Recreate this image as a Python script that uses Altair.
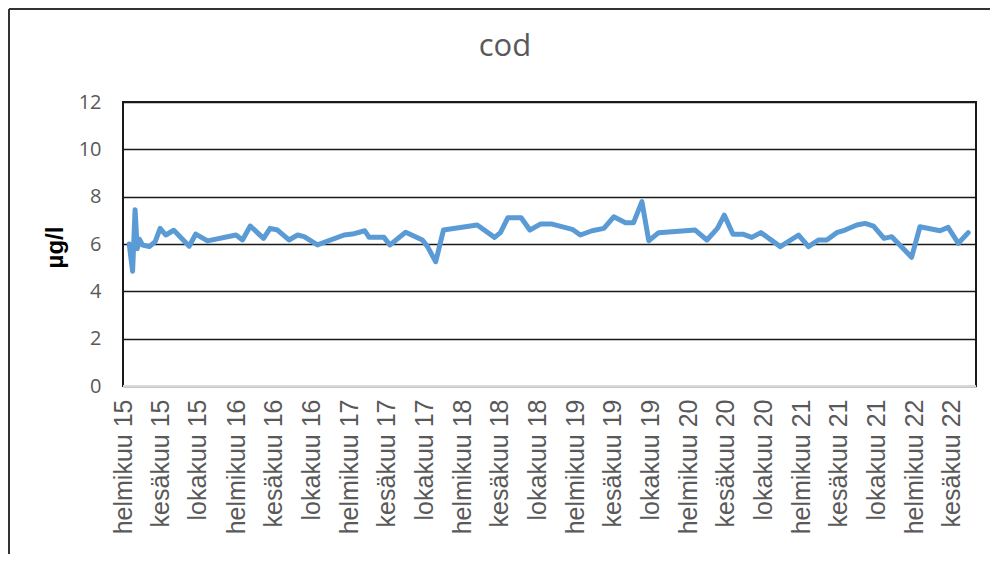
import altair as alt
import pandas as pd

dates = [
    "2015-02-21", "2015-03-04", "2015-03-12", "2015-03-19", "2015-03-26", "2015-04-05",
    "2015-04-27", "2015-05-16", "2015-06-01", "2015-06-19", "2015-07-15", "2015-09-03",
    "2015-09-24", "2015-11-01", "2016-02-01", "2016-02-22", "2016-03-18", "2016-04-30",
    "2016-05-21", "2016-06-14", "2016-07-21", "2016-08-18", "2016-09-08", "2016-10-21",
    "2017-01-15", "2017-02-11", "2017-03-23", "2017-04-06", "2017-05-24", "2017-06-12",
    "2017-08-02", "2017-09-25", "2017-10-11", "2017-11-07", "2017-12-02", "2018-03-21",
    "2018-05-16", "2018-06-04", "2018-06-28", "2018-08-10", "2018-09-07", "2018-10-11",
    "2018-11-18", "2019-01-22", "2019-02-17", "2019-03-27", "2019-05-04", "2019-06-05",
    "2019-07-13", "2019-08-08", "2019-09-04", "2019-09-26", "2019-10-28", "2020-02-23",
    "2020-04-01", "2020-05-05", "2020-05-27", "2020-06-24", "2020-07-28", "2020-08-24",
    "2020-09-22", "2020-11-24", "2021-01-22", "2021-02-23", "2021-03-27", "2021-04-23",
    "2021-05-25", "2021-06-21", "2021-07-29", "2021-08-25", "2021-09-21", "2021-10-25",
    "2021-11-19", "2022-01-22", "2022-02-18", "2022-04-24", "2022-05-20", "2022-06-22",
    "2022-07-24",
]
values = [
    6.0, 4.85, 7.45, 5.8, 6.2, 5.96,
    5.89, 6.1, 6.66, 6.38, 6.58, 5.91,
    6.42, 6.13, 6.38, 6.17, 6.76, 6.24,
    6.66, 6.59, 6.17, 6.38, 6.31, 5.96,
    6.38, 6.42, 6.56, 6.28, 6.28, 5.96,
    6.5, 6.17, 5.9, 5.25, 6.59, 6.8,
    6.28, 6.48, 7.11, 7.11, 6.59, 6.84,
    6.84, 6.62, 6.38, 6.56, 6.66, 7.15,
    6.9, 6.9, 7.79, 6.14, 6.48, 6.59,
    6.17, 6.66, 7.22, 6.41, 6.41, 6.28,
    6.48, 5.89, 6.38, 5.89, 6.17, 6.17,
    6.48, 6.59, 6.8, 6.87, 6.76, 6.24,
    6.31, 5.44, 6.73, 6.56, 6.7, 6.03,
    6.48,
]

month_names = ["tammikuu", "helmikuu", "maaliskuu", "huhtikuu", "toukokuu", "kesäkuu",
               "heinäkuu", "elokuu", "syyskuu", "lokakuu", "marraskuu", "joulukuu"]
tick_years = [2015] * 3 + [y for y in range(2016, 2022) for _ in range(3)] + [2022] * 2
tick_months = [2, 6, 10] + [m for _ in range(2016, 2022) for m in (2, 6, 10)] + [2, 6]
y_ticks = [0, 2, 4, 6, 8, 10, 12]
title_text = "cod"
y_title = "µg/l"

df = pd.DataFrame({"date": pd.to_datetime(dates), "value": values})

tick_values = [alt.DateTime(year=y, month=m, date=1) for y, m in zip(tick_years, tick_months)]
names_js = "[" + ",".join("'" + n + "'" for n in month_names) + "]"
label_expr = names_js + "[month(datum.value)] + ' ' + timeFormat(datum.value, '%y')"

W, H = 853, 284

x_enc = alt.X(
    "date:T",
    scale=alt.Scale(domain=[alt.DateTime(year=2015, month=2, date=1),
                            alt.DateTime(year=2022, month=8, date=18)]),
    axis=alt.Axis(
        values=tick_values, labelExpr=label_expr, labelAngle=-90, title=None,
        grid=False, ticks=False, domain=False, labelFont="Liberation Sans",
        labelFontSize=25, labelColor="#595959", labelPadding=13, labelOverlap=False,
        labelFlush=False, labelBound=False,
    ),
)
y_enc = alt.Y(
    "value:Q",
    scale=alt.Scale(domain=[0, 12], nice=False),
    axis=alt.Axis(
        values=y_ticks, title=y_title, grid=True, gridColor="#1a1a1a", gridWidth=1.6,
        ticks=False, domain=False, labelFont="Open Sans", labelFontSize=20,
        labelColor="#595959", labelPadding=22,
        titleFont="Liberation Sans", titleFontSize=24, titleFontWeight="bold",
        titleColor="black", titleAngle=-90, titleX=-68, titleY=H / 2 + 3,
        titleAlign="center", titleBaseline="middle",
    ),
)

line = alt.Chart(df).mark_line(
    color="#5B9BD5", strokeWidth=5, strokeJoin="round", strokeCap="round"
).encode(x=x_enc, y=y_enc)

baseline = alt.Chart(pd.DataFrame({"v": [0]})).mark_rule(
    color="#d9d9d9", strokeWidth=2
).encode(y=alt.Y("v:Q", scale=alt.Scale(domain=[0, 12], nice=False)),
         x=alt.value(0), x2=alt.value(W))

title = alt.Chart(pd.DataFrame({"t": [title_text]})).mark_text(
    font="Open Sans", fontSize=31, color="#595959", align="center", baseline="middle"
).encode(text="t:N", x=alt.value(382), y=alt.value(-55))

frame_top = alt.Chart(pd.DataFrame({"t": [0]})).mark_rule(
    color="#333333", strokeWidth=2
).encode(x=alt.value(-114), x2=alt.value(W + 20), y=alt.value(-93))
frame_left = alt.Chart(pd.DataFrame({"t": [0]})).mark_rule(
    color="#333333", strokeWidth=2
).encode(x=alt.value(-114), y=alt.value(-93), y2=alt.value(H + 200))

chart = alt.layer(frame_top, frame_left, line, baseline, title).properties(
    width=W, height=H,
    autosize=alt.AutoSizeParams(type="none"),
    padding={"left": 115, "top": 94, "right": 14, "bottom": 168},
    background="white",
).configure_view(stroke="#1a1a1a", strokeWidth=2)

chart.save("out.html", embed_options={"renderer": "svg", "actions": False})
